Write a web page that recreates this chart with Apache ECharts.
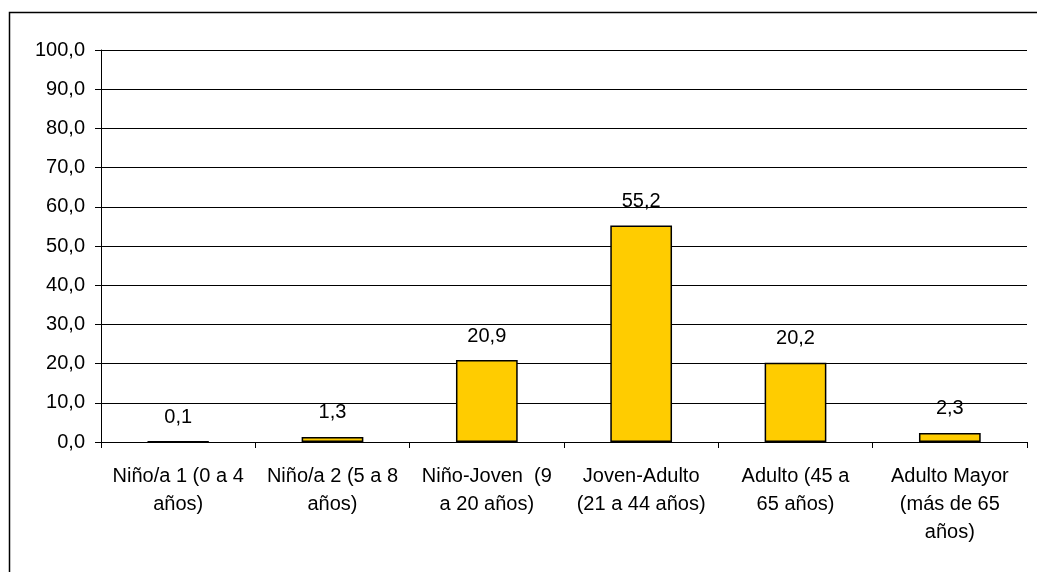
<!DOCTYPE html>
<html>
<head>
<meta charset="utf-8">
<script src="https://cdn.jsdelivr.net/npm/echarts@6/dist/echarts.min.js"></script>
<style>
html,body{margin:0;padding:0;background:#fff;}
#chart{width:1037px;height:572px;}
</style>
</head>
<body>
<div id="chart"></div>
<script>
const categories = [
  "Niño/a 1 (0 a 4\naños)",
  "Niño/a 2 (5 a 8\naños)",
  "Niño-Joven  (9\na 20 años)",
  "Joven-Adulto\n(21 a 44 años)",
  "Adulto (45 a\n65 años)",
  "Adulto Mayor\n(más de 65\naños)"
];
const values = [0.1, 1.3, 20.9, 55.2, 20.2, 2.3];
const yMin = 0, yMax = 100, yStep = 10;

const fmt = v => Number(v).toFixed(1).replace('.', ',');
const FONT = '"Liberation Sans", Arial, sans-serif';

const chart = echarts.init(document.getElementById('chart'), null, {renderer: 'canvas'});
chart.setOption({
  backgroundColor: '#fff',
  animation: false,
  graphic: [{
    type: 'rect',
    left: 7, top: 10,
    shape: {width: 1100, height: 700},
    style: {fill: 'none', stroke: '#000', lineWidth: 1.5},
    silent: true
  }],
  grid: {left: 101, right: 10, top: 50, bottom: 130, containLabel: false},
  xAxis: {
    type: 'category',
    data: categories,
    axisLine: {lineStyle: {color: '#000', width: 1}},
    axisTick: {show: true, length: 6, lineStyle: {color: '#000'}, alignWithLabel: false},
    axisLabel: {
      interval: 0, margin: 20, color: '#000', fontSize: 20, fontFamily: FONT,
      lineHeight: 28, align: 'center'
    }
  },
  yAxis: {
    type: 'value',
    min: yMin, max: yMax, interval: yStep,
    axisLine: {show: true, lineStyle: {color: '#000', width: 1}},
    axisTick: {show: true, length: 6, lineStyle: {color: '#000'}},
    splitLine: {show: true, lineStyle: {color: '#000', width: 1}},
    axisLabel: {color: '#000', fontSize: 20, fontFamily: FONT, margin: 16, formatter: v => fmt(v)}
  },
  series: [{
    type: 'bar',
    data: values,
    barWidth: '40%',
    itemStyle: {color: '#FFCC00', borderColor: '#000', borderWidth: 1.5},
    label: {
      show: true, position: 'top', distance: 14,
      color: '#000', fontSize: 20, fontFamily: FONT,
      formatter: p => fmt(p.value)
    }
  }]
});
</script>
</body>
</html>
